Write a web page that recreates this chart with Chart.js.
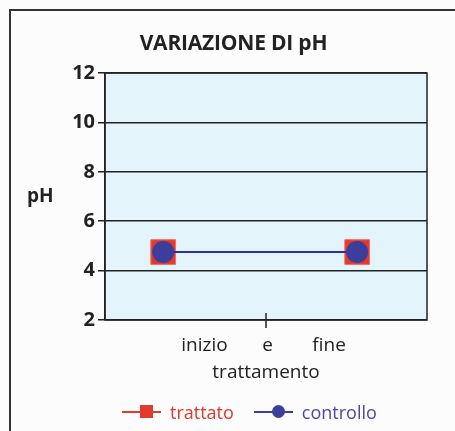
<!DOCTYPE html>
<html>
<head>
<meta charset="utf-8">
<script src="https://cdn.jsdelivr.net/npm/chart.js@4"></script>
<style>
  body { margin: 0; background: #fcfcfc; }
  #wrap { position: relative; width: 455px; height: 431px; overflow: hidden; font-family: "Open Sans", "Noto Sans", sans-serif; }
  #frame { position: absolute; left: 9px; top: 9px; width: 500px; height: 500px; border-left: 2px solid #333; border-top: 2px solid #333; }
  canvas { position: absolute; left: 0; top: 0; }
  .txt { position: absolute; color: #222; white-space: nowrap; }
  #title { left: 0; width: 467px; top: 28px; text-align: center; font-weight: 700; font-size: 21px; letter-spacing: -0.2px; }
  #ylab { left: 27px; top: 182px; font-weight: 700; font-size: 19px; }
  #legend { position: absolute; top: 400px; left: 122px; display: flex; align-items: center; font-size: 18px; }
  .item { display: flex; align-items: center; margin-right: 20px; }
  .key { position: relative; width: 39px; height: 24px; margin-right: 9px; }
  .key .ln { position: absolute; left: 0; right: 0; top: 11px; height: 2px; }
  .key .mk { position: absolute; left: 18px; top: 5px; width: 13px; height: 13px; }
</style>
</head>
<body>
<div id="wrap">
  <div id="frame"></div>
  <canvas id="chart" width="455" height="431"></canvas>
  <div class="txt" id="title">VARIAZIONE DI pH</div>
  <div class="txt" id="ylab">pH</div>
  <div id="legend"></div>
</div>
<script>
// dati
const momenti = [0, 1];            // inizio, fine trattamento
const trattato = [4.75, 4.75];
const controllo = [4.75, 4.75];
const yTicks = [2, 4, 6, 8, 10, 12];
const xTitle = ["inizio       e        fine ", "trattamento"];

const rosso = "#e33a2f";
const blu = "#3b3e9b";

// sfondo area grafico + bordo + tacca centrale
const areaPlugin = {
  id: "area",
  beforeDraw(chart) {
    const { ctx, chartArea: a } = chart;
    ctx.save();
    ctx.fillStyle = "#e3f5fa";
    ctx.fillRect(a.left, a.top, a.right - a.left, a.bottom - a.top);
    ctx.restore();
  },
  afterDraw(chart) {
    const { ctx, chartArea: a } = chart;
    const sx = chart.scales.x;
    ctx.save();
    ctx.strokeStyle = "#222";
    ctx.lineWidth = 1.5;
    ctx.strokeRect(a.left, a.top, a.right - a.left, a.bottom - a.top);
    const x = sx.getPixelForValue((sx.min + sx.max) / 2);
    ctx.beginPath();
    ctx.moveTo(x, a.bottom - 7);
    ctx.lineTo(x, a.bottom + 8);
    ctx.stroke();
    ctx.restore();
  }
};

new Chart(document.getElementById("chart"), {
  type: "line",
  data: {
    datasets: [
      {
        label: "trattato",
        data: momenti.map((m, i) => ({ x: m, y: trattato[i] })),
        borderColor: rosso,
        borderWidth: 2,
        pointStyle: "rect",
        pointRadius: 17.5,
        pointBackgroundColor: rosso,
        pointBorderColor: "#f26d63",
        pointBorderWidth: 1,
        order: 2
      },
      {
        label: "controllo",
        data: momenti.map((m, i) => ({ x: m, y: controllo[i] })),
        borderColor: "#2d3099",
        borderWidth: 2,
        pointStyle: "circle",
        pointRadius: 11,
        pointBackgroundColor: blu,
        pointBorderColor: blu,
        pointBorderWidth: 0,
        order: 1
      }
    ]
  },
  options: {
    responsive: false,
    animation: false,
    layout: { padding: { top: 73, right: 28, bottom: 0, left: 0 } },
    plugins: { legend: { display: false }, tooltip: { enabled: false } },
    scales: {
      x: {
        type: "linear",
        min: -0.3,
        max: 1.36,
        ticks: { display: false },
        grid: { display: false },
        border: { display: false },
        title: {
          display: true,
          text: xTitle,
          color: "#222",
          font: { family: "Open Sans", size: 19, lineHeight: 1.42 },
          padding: { top: 0, bottom: 45 }
        },
        afterFit(s) { s.height = 111; }
      },
      y: {
        min: 2,
        max: 12,
        afterBuildTicks(s) { s.ticks = yTicks.map(v => ({ value: v })); },
        ticks: {
          color: "#222",
          padding: 3,
          font: { family: "Open Sans", size: 20, weight: "bold" }
        },
        grid: { color: "#222", lineWidth: 1.5, tickLength: 7 },
        border: { color: "#222", width: 1.5 },
        afterFit(s) { s.width = 105; }
      }
    }
  },
  plugins: [areaPlugin]
});

// legenda
const voci = [
  { label: "trattato", col: rosso, text: "#e0372f", round: false },
  { label: "controllo", col: blu, text: "#4a4b9d", round: true }
];
const leg = document.getElementById("legend");
voci.forEach(v => {
  const it = document.createElement("div");
  it.className = "item";
  it.innerHTML = '<div class="key"><div class="ln" style="background:' + v.col + '"></div>' +
    '<div class="mk" style="background:' + v.col + ';border-radius:' + (v.round ? "50%" : "0") + '"></div></div>' +
    '<span style="color:' + v.text + '">' + v.label + '</span>';
  leg.appendChild(it);
});
</script>
</body>
</html>
